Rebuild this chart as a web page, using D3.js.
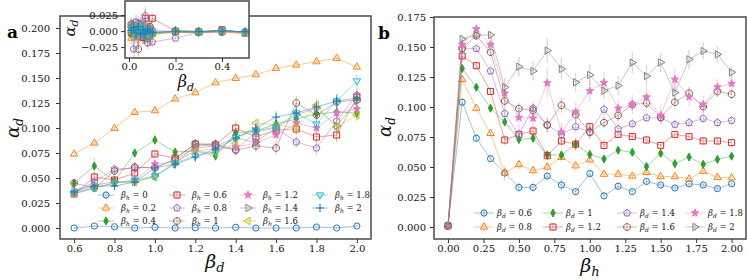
<!DOCTYPE html>
<html><head><meta charset="utf-8">
<script src="https://cdn.jsdelivr.net/npm/d3@7"></script>
<style>body{margin:0;background:#fff}svg{display:block}</style>
</head><body>
<svg id="c" width="747" height="280"></svg>
<script>
// ---------------- DATA ----------------
// Panel a: alpha_d vs beta_d, one series per beta_h
const betaD = [0.6,0.7,0.8,0.9,1.0,1.1,1.2,1.3,1.4,1.5,1.6,1.7,1.8,1.9,2.0];
const betaHLabels = ["0","0.2","0.4","0.6","0.8","1","1.2","1.4","1.6","1.8","2"];
const a_h00 = [0,0.002,0.0013,0,0.0007,0,0.0003,0,0.0007,0,0,0,0.001,0,0.002];
const a_h02 = [0.074,0.085,0.0997,0.1157,0.1173,0.129,0.1353,0.1453,0.1497,0.1533,0.1597,0.163,0.1663,0.1697,0.161];
const a_h04 = [0.045,0.062,0.047,0.075,0.088,0.076,0.077,0.072,0.095,0.097,0.104,0.109,0.114,0.116,0.115];
const a_h06 = [0.034,0.051,0.048,0.055,0.074,0.070,0.084,0.083,0.100,0.091,0.098,0.099,0.091,0.093,0.131];
const a_h08 = [0.035,0.046,0.059,0.060,0.061,0.068,0.080,0.082,0.078,0.096,0.100,0.086,0.080,0.107,0.133];
const a_h10 = [0.045,0.040,0.057,0.061,0.060,0.069,0.084,0.084,0.078,0.082,0.080,0.125,0.113,0.126,0.128];
const a_h12 = [0.034,0.040,0.045,0.048,0.064,0.066,0.077,0.079,0.081,0.085,0.093,0.105,0.100,0.115,0.119];
const a_h14 = [0.038,0.043,0.046,0.046,0.052,0.064,0.083,0.082,0.090,0.086,0.100,0.113,0.120,0.102,0.127];
const a_h16 = [0.034,0.040,0.045,0.046,0.051,0.066,0.077,0.075,0.085,0.105,0.103,0.100,0.123,0.101,0.113];
const a_h18 = [0.035,0.040,0.045,0.048,0.052,0.065,0.072,0.076,0.091,0.097,0.101,0.115,0.104,0.127,0.147];
const a_h20 = [0.036,0.042,0.042,0.046,0.060,0.064,0.071,0.079,0.090,0.100,0.111,0.115,0.121,0.127,0.130];
// error bar half-lengths (panel a)
const ae_h00 = [0.001,0.001,0.001,0.001,0.001,0.001,0.001,0.001,0.001,0.001,0.001,0.001,0.001,0.001,0.001];
const ae_h02 = [0.002,0.003,0.002,0.002,0.002,0.002,0.002,0.002,0.002,0.002,0.002,0.002,0.002,0.002,0.003];
const ae_h04 = [0.003,0.008,0.004,0.005,0.006,0.004,0.005,0.005,0.005,0.006,0.005,0.006,0.006,0.006,0.007];
const ae_h06 = [0.003,0.005,0.004,0.005,0.004,0.004,0.005,0.005,0.006,0.006,0.006,0.006,0.006,0.007,0.006];
const ae_h08 = [0.003,0.004,0.004,0.005,0.005,0.005,0.006,0.005,0.006,0.007,0.008,0.006,0.007,0.008,0.007];
const ae_h10 = [0.003,0.004,0.004,0.005,0.005,0.005,0.005,0.005,0.005,0.006,0.006,0.007,0.006,0.007,0.006];
const ae_h12 = [0.003,0.004,0.004,0.004,0.005,0.005,0.005,0.006,0.006,0.007,0.007,0.007,0.007,0.008,0.007];
const ae_h14 = [0.003,0.004,0.004,0.004,0.005,0.005,0.005,0.005,0.006,0.006,0.007,0.007,0.007,0.008,0.008];
const ae_h16 = [0.003,0.004,0.004,0.004,0.005,0.005,0.005,0.006,0.006,0.006,0.007,0.007,0.007,0.008,0.007];
const ae_h18 = [0.003,0.004,0.004,0.004,0.005,0.005,0.005,0.005,0.006,0.006,0.006,0.007,0.007,0.007,0.007];
const ae_h20 = [0.003,0.004,0.004,0.004,0.004,0.005,0.005,0.005,0.006,0.006,0.006,0.006,0.007,0.007,0.007];

// Inset of panel a: small beta_d
const betaDSmall = [0.01,0.02,0.03,0.04,0.05,0.06,0.07,0.08,0.09,0.1,0.2,0.3,0.4,0.5];
const i_h00 = [0.002,-0.003,0.004,0.001,-0.004,0.003,-0.002,0.001,-0.003,0.000,-0.001,-0.002,0.000,-0.001];
const i_h02 = [-0.011,-0.004,0.003,-0.007,0.002,-0.009,0.001,-0.004,0.002,-0.005,-0.002,-0.003,-0.001,-0.004];
const i_h04 = [-0.005,0.002,-0.006,0.004,-0.002,-0.008,0.003,-0.005,-0.007,-0.006,0.001,0.000,0.000,-0.001];
const i_h06 = [-0.003,0.005,-0.002,-0.008,0.004,-0.010,0.020,-0.004,0.003,0.020,0.000,-0.001,0.002,-0.003];
const i_h08 = [0.006,-0.028,0.004,0.012,-0.003,0.008,0.024,-0.012,0.003,-0.017,-0.011,-0.002,-0.002,-0.003];
const i_h10 = [0.011,0.008,0.014,-0.028,0.010,0.005,-0.006,-0.018,0.007,-0.003,-0.001,-0.002,0.002,-0.002];
const i_h12 = [0.004,-0.006,0.009,0.002,-0.008,0.012,0.000,0.006,-0.004,0.002,-0.001,-0.002,0.001,-0.002];
const i_h14 = [0.009,0.002,-0.005,0.006,0.012,-0.004,0.003,-0.009,0.005,-0.002,-0.002,-0.001,0.000,-0.002];
const i_h16 = [-0.002,0.006,-0.009,0.003,0.000,0.007,-0.005,0.002,-0.003,-0.004,-0.001,-0.002,0.000,-0.003];
const i_h18 = [0.003,-0.004,0.006,-0.003,0.008,-0.002,0.004,-0.006,0.001,-0.003,-0.001,-0.002,0.001,-0.002];
const i_h20 = [0.001,0.005,-0.003,0.007,-0.005,0.002,-0.004,0.003,0.000,-0.002,0.000,-0.001,0.000,-0.001];
const ie_all = [0.010,0.012,0.011,0.012,0.010,0.011,0.014,0.010,0.009,0.008,0.003,0.002,0.002,0.002];

// Panel b: alpha_d vs beta_h, one series per beta_d
const betaH = [0,0.1,0.2,0.3,0.4,0.5,0.6,0.7,0.8,0.9,1.0,1.1,1.2,1.3,1.4,1.5,1.6,1.7,1.8,1.9,2.0];
const betaDLabels = ["0.6","0.8","1","1.2","1.4","1.6","1.8","2"];
const b_d06 = [0.001,0.104,0.074,0.057,0.045,0.033,0.033,0.0425,0.035,0.0295,0.0445,0.026,0.034,0.0295,0.038,0.035,0.0325,0.036,0.035,0.032,0.036];
const b_d08 = [0.001,0.123,0.099,0.078,0.045,0.052,0.047,0.050,0.058,0.051,0.056,0.044,0.044,0.0425,0.0455,0.042,0.042,0.040,0.0464,0.0414,0.041];
const b_d10 = [0.001,0.132,0.1164,0.099,0.0875,0.073,0.074,0.060,0.060,0.069,0.0605,0.0567,0.064,0.0622,0.0503,0.0614,0.0528,0.0583,0.0522,0.0564,0.059];
const b_d12 = [0.001,0.1425,0.1344,0.113,0.0725,0.0772,0.080,0.0594,0.0717,0.069,0.0836,0.068,0.0772,0.0753,0.0725,0.068,0.0772,0.0753,0.0717,0.0717,0.0703];
const b_d14 = [0.001,0.1486,0.1486,0.130,0.0945,0.077,0.099,0.085,0.077,0.0836,0.079,0.098,0.0817,0.086,0.091,0.091,0.0855,0.087,0.0905,0.087,0.0888];
const b_d16 = [0.001,0.149,0.1594,0.1456,0.105,0.0986,0.0972,0.085,0.1014,0.0936,0.079,0.087,0.093,0.102,0.1033,0.0915,0.104,0.1115,0.1003,0.113,0.1106];
const b_d18 = [0.001,0.152,0.165,0.152,0.1114,0.0912,0.0906,0.120,0.079,0.096,0.1133,0.1203,0.0989,0.102,0.1083,0.093,0.123,0.1085,0.1022,0.1166,0.1195];
const b_d20 = [0.001,0.1567,0.160,0.160,0.1164,0.1336,0.130,0.147,0.1317,0.1206,0.1267,0.1136,0.1178,0.137,0.1258,0.1372,0.112,0.1397,0.1467,0.1439,0.1289];
const be_d06 = [0.001,0.003,0.003,0.003,0.004,0.004,0.004,0.003,0.005,0.003,0.003,0.003,0.003,0.002,0.003,0.002,0.002,0.002,0.002,0.002,0.002];
const be_d08 = [0.001,0.003,0.003,0.003,0.006,0.004,0.004,0.004,0.004,0.004,0.003,0.003,0.003,0.003,0.003,0.003,0.003,0.002,0.003,0.002,0.002];
const be_d10 = [0.001,0.003,0.003,0.003,0.004,0.004,0.004,0.004,0.004,0.005,0.004,0.003,0.003,0.003,0.004,0.003,0.004,0.003,0.003,0.003,0.003];
const be_d12 = [0.001,0.003,0.003,0.003,0.004,0.004,0.004,0.004,0.004,0.005,0.004,0.004,0.003,0.003,0.003,0.003,0.003,0.003,0.003,0.003,0.003];
const be_d14 = [0.001,0.003,0.003,0.003,0.005,0.006,0.005,0.006,0.006,0.005,0.005,0.005,0.004,0.004,0.004,0.004,0.004,0.004,0.004,0.004,0.004];
const be_d16 = [0.001,0.003,0.003,0.003,0.005,0.005,0.005,0.006,0.006,0.006,0.006,0.005,0.005,0.005,0.005,0.005,0.005,0.005,0.005,0.005,0.004];
const be_d18 = [0.001,0.004,0.004,0.004,0.008,0.008,0.008,0.012,0.008,0.008,0.009,0.009,0.007,0.008,0.007,0.008,0.009,0.008,0.007,0.007,0.006];
const be_d20 = [0.001,0.004,0.004,0.004,0.008,0.008,0.008,0.010,0.009,0.008,0.009,0.007,0.008,0.009,0.009,0.008,0.009,0.008,0.007,0.007,0.005];

const colors = ["#1f77b4","#ff7f0e","#2ca02c","#d62728","#9467bd","#8c564b","#e377c2","#7f7f7f","#bcbd22","#17becf","#1f77b4"];
const markerTypes = ["circle","tri-up","thin-diamond","square","pentagon","octagon","star","tri-right","tri-left","tri-down","plus"];

const leftSeries = [a_h00,a_h02,a_h04,a_h06,a_h08,a_h10,a_h12,a_h14,a_h16,a_h18,a_h20];
const leftErr = [ae_h00,ae_h02,ae_h04,ae_h06,ae_h08,ae_h10,ae_h12,ae_h14,ae_h16,ae_h18,ae_h20];
const insetSeries = [i_h00,i_h02,i_h04,i_h06,i_h08,i_h10,i_h12,i_h14,i_h16,i_h18,i_h20];
const rightSeries = [b_d06,b_d08,b_d10,b_d12,b_d14,b_d16,b_d18,b_d20];
const rightErr = [be_d06,be_d08,be_d10,be_d12,be_d14,be_d16,be_d18,be_d20];

// ---------------- DRAWING ----------------
const svg = d3.select("#c");
const SERIF = "DejaVu Serif";

function poly(n, R, rot){
  const p=[];
  for(let i=0;i<n;i++){const a=(rot+360*i/n)*Math.PI/180;p.push([R*Math.cos(a),R*Math.sin(a)]);}
  return "M"+p.map(q=>q[0].toFixed(2)+","+q[1].toFixed(2)).join("L")+"Z";
}
function starPath(Ro,Ri){
  const p=[];
  for(let i=0;i<10;i++){const r=i%2?Ri:Ro;const a=(-90+36*i)*Math.PI/180;p.push([r*Math.cos(a),r*Math.sin(a)]);}
  return "M"+p.map(q=>q[0].toFixed(2)+","+q[1].toFixed(2)).join("L")+"Z";
}
function markerPath(t){
  switch(t){
    case "circle": return d3.symbol(d3.symbolCircle, Math.PI*3.1*3.1)();
    case "tri-up": return poly(3,4.2,-90);
    case "tri-down": return poly(3,4.2,90);
    case "tri-right": return poly(3,4.2,0);
    case "tri-left": return poly(3,4.2,180);
    case "square": return "M-3,-3H3V3H-3Z";
    case "pentagon": return poly(5,3.6,-90);
    case "octagon": return poly(8,3.5,22.5);
    case "thin-diamond": return "M0,-4L2.2,0L0,4L-2.2,0Z";
    case "star": return starPath(3.9,1.6);
    case "plus": return "M-4,0H4M0,-4V4";
  }
}
function markerFill(t,c){ return (t==="star"||t==="thin-diamond")? c : "none"; }

function drawSeries(g, xs, ys, es, color, mt, xs_, ys_){
  const pts = xs.map((x,i)=>({x, y:ys[i], e: es? es[i]:0}));
  g.append("path").attr("d", d3.line().x(d=>xs_(d.x)).y(d=>ys_(d.y))(pts))
    .attr("fill","none").attr("stroke",color).attr("stroke-width",0.8).attr("stroke-opacity",0.55);
  g.append("g").selectAll("line").data(pts).join("line")
    .attr("x1",d=>xs_(d.x)).attr("x2",d=>xs_(d.x))
    .attr("y1",d=>ys_(d.y-d.e)).attr("y2",d=>ys_(d.y+d.e))
    .attr("stroke",color).attr("stroke-width",1.3).attr("stroke-opacity",0.3);
  const mp = markerPath(mt);
  g.append("g").selectAll("path").data(pts).join("path")
    .attr("transform",d=>`translate(${xs_(d.x)},${ys_(d.y)})`)
    .attr("d",mp).attr("fill",markerFill(mt,color)).attr("stroke",color).attr("stroke-width",1);
}

function styleAxis(sel){
  sel.select(".domain").remove();
  sel.selectAll(".tick line").attr("stroke","#333").attr("stroke-width",1);
  sel.selectAll(".tick text").attr("font-family",SERIF).attr("font-size",10).attr("fill","#111");
}
function frame(x0,y0,x1,y1){
  svg.append("rect").attr("x",x0).attr("y",y0).attr("width",x1-x0).attr("height",y1-y0)
    .attr("fill","none").attr("stroke","#555").attr("stroke-width",1.6);
}
function mathLabel(g, base, sub, size, subSize, rest){
  const t = g.append("text").attr("font-family",SERIF).attr("fill","#111");
  t.append("tspan").attr("font-style","italic").attr("font-size",size).text(base);
  t.append("tspan").attr("font-style","italic").attr("font-size",subSize).attr("dy",size*0.22).text(sub);
  if(rest) t.append("tspan").attr("font-size",size).attr("dy",-size*0.22).text(rest);
  return t;
}

// ---------- Panel a ----------
const L = {x0:60,x1:371,y0:16,y1:239};
const xL = d3.scaleLinear().domain([0.53,2.07]).range([L.x0,L.x1]);
const yL = d3.scaleLinear().domain([-0.011,0.212]).range([L.y1,L.y0]);
const gL = svg.append("g");
leftSeries.forEach((s,i)=>drawSeries(gL, betaD, s, leftErr[i], colors[i], markerTypes[i], xL, yL));
frame(L.x0,L.y0,L.x1,L.y1);
styleAxis(svg.append("g").attr("transform",`translate(${L.x0},0)`)
  .call(d3.axisLeft(yL).tickValues(d3.range(0,0.2001,0.025)).tickFormat(d3.format(".3f")).tickSize(4).tickPadding(6)));
styleAxis(svg.append("g").attr("transform",`translate(0,${L.y1})`)
  .call(d3.axisBottom(xL).tickValues([0.6,0.8,1.0,1.2,1.4,1.6,1.8,2.0]).tickFormat(d3.format(".1f")).tickSize(4).tickPadding(1.5)));
mathLabel(svg,"β","d",19,13).attr("x",215).attr("y",268).attr("text-anchor","middle");
mathLabel(svg.append("g").attr("transform","translate(19,128) rotate(-90)"),"α","d",18,12).attr("text-anchor","middle");
svg.append("text").attr("x",7).attr("y",38).attr("font-family",SERIF).attr("font-weight","bold").attr("font-size",17).text("a");

// legend a
const legA = svg.append("g");
const colXA = [106,177,248,320], rowYA=[195,208,221];
betaHLabels.forEach((lab,i)=>{
  const c = Math.floor(i/3), r = i%3;
  const cx = colXA[c], cy = rowYA[r];
  const g = legA.append("g").attr("transform",`translate(${cx},${cy})`);
  g.append("line").attr("x1",-8).attr("x2",8).attr("stroke",colors[i]).attr("stroke-width",0.8).attr("stroke-opacity",0.55);
  g.append("line").attr("y1",-4).attr("y2",4).attr("stroke",colors[i]).attr("stroke-width",1.3).attr("stroke-opacity",0.3);
  g.append("path").attr("d",markerPath(markerTypes[i])).attr("fill",markerFill(markerTypes[i],colors[i])).attr("stroke",colors[i]).attr("stroke-width",1);
  mathLabel(g,"β","h",8.5,6," = "+lab).attr("x",15).attr("y",3);
});

// ---------- Inset ----------
const I = {x0:125,x1:249,y0:1,y1:58};
svg.append("rect").attr("x",I.x0).attr("y",I.y0).attr("width",I.x1-I.x0).attr("height",I.y1-I.y0).attr("fill","#fff");
const xI = d3.scaleLinear().domain([-0.0172,0.516]).range([I.x0,I.x1]);
const yI = d3.scaleLinear().domain([-0.042,0.047]).range([I.y1,I.y0]);
svg.append("clipPath").attr("id","ci").append("rect").attr("x",I.x0).attr("y",I.y0).attr("width",I.x1-I.x0).attr("height",I.y1-I.y0);
const gI = svg.append("g").attr("clip-path","url(#ci)");
insetSeries.forEach((s,i)=>drawSeries(gI, betaDSmall, s, ie_all, colors[i], markerTypes[i], xI, yI));
frame(I.x0,I.y0,I.x1,I.y1);
styleAxis(svg.append("g").attr("transform",`translate(${I.x0},0)`)
  .call(d3.axisLeft(yI).tickValues([-0.025,0,0.025]).tickFormat(d=>d3.format(".3f")(d).replace("-","−")).tickSize(4).tickPadding(3)));
styleAxis(svg.append("g").attr("transform",`translate(0,${I.y1})`)
  .call(d3.axisBottom(xI).tickValues([0,0.2,0.4]).tickFormat(d3.format(".1f")).tickSize(4).tickPadding(0.5)));
mathLabel(svg,"β","d",16,11).attr("x",186).attr("y",87).attr("text-anchor","middle");
mathLabel(svg.append("g").attr("transform","translate(75,28) rotate(-90)"),"α","d",15,11).attr("text-anchor","middle");

// ---------- Panel b ----------
const R = {x0:434,x1:746,y0:17,y1:239};
const xR = d3.scaleLinear().domain([-0.0987,2.1016]).range([R.x0,R.x1]);
const yR = d3.scaleLinear().domain([-0.01,0.175]).range([R.y1,R.y0]);
const gR = svg.append("g");
rightSeries.forEach((s,i)=>drawSeries(gR, betaH, s, rightErr[i], colors[i], markerTypes[i], xR, yR));
frame(R.x0,R.y0,R.x1,R.y1);
styleAxis(svg.append("g").attr("transform",`translate(${R.x0},0)`)
  .call(d3.axisLeft(yR).tickValues(d3.range(0,0.1751,0.025)).tickFormat(d3.format(".3f")).tickSize(4).tickPadding(4)));
styleAxis(svg.append("g").attr("transform",`translate(0,${R.y1})`)
  .call(d3.axisBottom(xR).tickValues(d3.range(0,2.001,0.25)).tickFormat(d3.format(".2f")).tickSize(4).tickPadding(1.5)));
mathLabel(svg,"β","h",19,13).attr("x",590).attr("y",272).attr("text-anchor","middle");
mathLabel(svg.append("g").attr("transform","translate(391,127) rotate(-90)"),"α","d",18,12).attr("text-anchor","middle");
svg.append("text").attr("x",378).attr("y",39).attr("font-family",SERIF).attr("font-weight","bold").attr("font-size",17).text("b");

// legend b
const legB = svg.append("g");
const colXB = [484,553,627,695], rowYB=[213,227];
betaDLabels.forEach((lab,i)=>{
  const c = Math.floor(i/2), r = i%2;
  const cx = colXB[c], cy = rowYB[r];
  const g = legB.append("g").attr("transform",`translate(${cx},${cy})`);
  g.append("line").attr("x1",-10).attr("x2",10).attr("stroke",colors[i]).attr("stroke-width",0.8).attr("stroke-opacity",0.55);
  g.append("line").attr("y1",-4).attr("y2",4).attr("stroke",colors[i]).attr("stroke-width",1.3).attr("stroke-opacity",0.3);
  g.append("path").attr("d",markerPath(markerTypes[i])).attr("fill",markerFill(markerTypes[i],colors[i])).attr("stroke",colors[i]).attr("stroke-width",1);
  mathLabel(g,"β","d",8.5,6," = "+lab).attr("x",13).attr("y",3);
});
</script>
</body></html>
